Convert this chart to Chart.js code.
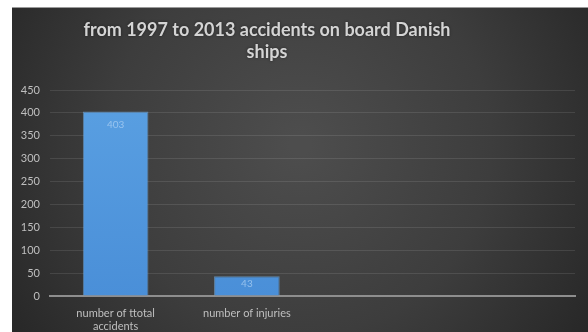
<!DOCTYPE html>
<html>
<head>
<meta charset="utf-8">
<script src="https://cdn.jsdelivr.net/npm/chart.js@4"></script>
<style>
  html, body { margin: 0; padding: 0; background: #ffffff; overflow: hidden; }
  body { width: 588px; height: 332px; position: relative; }
  #frame { position: absolute; left: 12px; top: 7px; width: 576px; height: 325px; border-top: 1px solid #9a9a9a; box-sizing: border-box; background: #2e2e2e; }
  #chart { position: absolute; left: 0; top: 0; display: block; }
</style>
</head>
<body>
<div id="frame"><canvas id="chart" width="576" height="324"></canvas></div>
<script>
// Accident figures on Danish ships, 1997-2013
const titleLines = ['from 1997 to 2013 accidents on board Danish', 'ships'];
const categories = [['number of ttotal', 'accidents'], 'number of injuries', '', ''];
const counts = [403, 43, null, null];
const yTicks = [0, 50, 100, 150, 200, 250, 300, 350, 400, 450];

const FONT = 'Lato, "Open Sans", sans-serif';

// Dark slide-style background with a soft light centre
const backdrop = {
  id: 'backdrop',
  beforeDraw(chart) {
    const { ctx, width, height } = chart;
    ctx.save();
    const g = ctx.createRadialGradient(width * 0.5, height * 0.42, 10, width * 0.5, height * 0.42, 340);
    g.addColorStop(0, '#4d4d4d');
    g.addColorStop(0.55, '#3d3d3d');
    g.addColorStop(1, '#282828');
    ctx.fillStyle = g;
    ctx.fillRect(0, 0, width, height);
    ctx.restore();
  }
};

// Two-line heading
const heading = {
  id: 'heading',
  afterDraw(chart) {
    const { ctx } = chart;
    ctx.save();
    ctx.fillStyle = '#d4d4d4';
    ctx.shadowColor = 'rgba(0,0,0,0.45)';
    ctx.shadowBlur = 3;
    ctx.font = 'bold 18px ' + FONT;
    ctx.textAlign = 'center';
    ctx.textBaseline = 'middle';
    titleLines.forEach((line, i) => ctx.fillText(line, 255, 22 + i * 22));
    ctx.restore();
  }
};

// Value labels just inside the top of each bar
const valueLabels = {
  id: 'valueLabels',
  afterDatasetsDraw(chart) {
    const { ctx } = chart;
    const meta = chart.getDatasetMeta(0);
    ctx.save();
    ctx.fillStyle = 'rgba(180, 212, 245, 0.7)';
    ctx.font = '10px ' + FONT;
    ctx.textAlign = 'center';
    ctx.textBaseline = 'middle';
    meta.data.forEach((bar, i) => {
      const v = counts[i];
      if (v === null || v === undefined) return;
      const h = bar.base - bar.y;
      const off = Math.min(13, h / 2 - 2.5);
      ctx.fillText(String(v), bar.x, bar.y + off);
    });
    ctx.restore();
  }
};

const ctx = document.getElementById('chart').getContext('2d');
const barFill = (context) => {
  const area = context.chart.chartArea;
  if (!area) return '#4f95db';
  const g = context.chart.ctx.createLinearGradient(0, area.top, 0, area.bottom);
  g.addColorStop(0, '#5aa0e2');
  g.addColorStop(1, '#4a8fd8');
  return g;
};

new Chart(ctx, {
  type: 'bar',
  data: {
    labels: categories,
    datasets: [{
      data: counts,
      backgroundColor: barFill,
      borderColor: 'rgba(120, 180, 235, 0.6)',
      borderWidth: 1,
      categoryPercentage: 0.5,
      barPercentage: 1
    }]
  },
  options: {
    responsive: false,
    animation: false,
    devicePixelRatio: 1,
    layout: { padding: { top: 82, right: 13, bottom: 0, left: 0 } },
    plugins: {
      legend: { display: false },
      title: { display: false },
      tooltip: { enabled: false }
    },
    scales: {
      x: {
        grid: { display: false },
        border: { display: true, color: '#8e8e8e', width: 2 },
        ticks: {
          color: '#bfbfbf',
          font: { family: FONT, size: 11, lineHeight: 1.2 },
          padding: 3,
          maxRotation: 0,
          autoSkip: false
        },
        afterFit(scale) { scale.height = 36; }
      },
      y: {
        min: 0,
        max: 450,
        afterBuildTicks(scale) { scale.ticks = yTicks.map(v => ({ value: v })); },
        grid: {
          drawTicks: false,
          color: (c) => c.tick && c.tick.value === 0 ? 'rgba(0,0,0,0)' : 'rgba(255,255,255,0.10)',
          lineWidth: 1
        },
        border: { display: false },
        ticks: {
          color: '#bfbfbf',
          font: { family: FONT, size: 11 },
          padding: 10
        },
        afterFit(scale) { scale.width = 38; }
      }
    }
  },
  plugins: [backdrop, heading, valueLabels]
});
</script>
</body>
</html>
